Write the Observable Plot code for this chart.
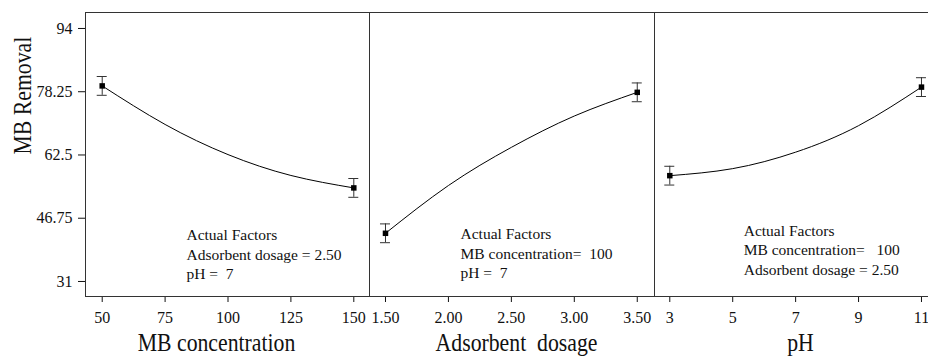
<!DOCTYPE html>
<html><head><meta charset="utf-8">
<script src="https://cdn.jsdelivr.net/npm/d3@7"></script>
<script src="https://cdn.jsdelivr.net/npm/@observablehq/plot@0.6"></script>
<style>
html,body{margin:0;padding:0;background:#fff;overflow:hidden;}
#chart{display:flex;flex-direction:row;width:928px;height:356px;overflow:hidden;}
#chart svg{flex:none;background:transparent !important;font-family:'Liberation Serif','Times New Roman',serif !important;font-size:16px !important;color:#111 !important;}
#chart svg text{font-family:'Liberation Serif','Times New Roman',serif !important;white-space:pre;}
</style></head><body><div id="chart"></div>
<script>
// ---- data ----
const yTicks = [31, 46.75, 62.5, 78.25, 94];
const yLabel = "MB Removal";

const conc = [50, 75, 100, 125, 150];
const concRemoval = [79.7, 70.1, 62.6, 57.4, 54.3];
const concTicks = [50, 75, 100, 125, 150];

const dose = [1.5, 2.0, 2.5, 3.0, 3.5];
const doseRemoval = [43.0, 54.9, 64.4, 72.2, 78.1];
const doseTicks = [1.5, 2.0, 2.5, 3.0, 3.5];

const ph = [3, 5, 7, 9, 11];
const phRemoval = [57.35, 59.1, 63.2, 69.8, 79.4];
const phTicks = [3, 5, 7, 9, 11];

const errHalf = 2.34; // ± half-width of error bars at design points

const xTitles = ["MB concentration", "Adsorbent  dosage", "pH"];
const notes = [
  "Actual Factors\nAdsorbent dosage = 2.50\npH =  7",
  "Actual Factors\nMB concentration=  100\npH =  7",
  "Actual Factors\nMB concentration=   100\nAdsorbent dosage = 2.50"
];

// ---- drawing ----
const yDomain = [27.26, 97.98];

function panel(o) {
  const rows = o.xs.map((x, i) => ({x, y: o.ys[i]}));
  const ends = [rows[0], rows[rows.length - 1]];
  return Plot.plot({
    width: o.width, height: 356,
    marginLeft: o.marginLeft, marginRight: 0, marginTop: 12, marginBottom: 60,
    x: {domain: o.xDomain, ticks: o.xTicks, tickFormat: o.xFormat, tickSize: 6, tickPadding: 9, label: null},
    y: {domain: yDomain, ticks: yTicks, tickSize: 7, tickPadding: 6, label: null,
        axis: o.showY ? "left" : null, tickFormat: d => String(d)},
    marks: [
      Plot.frame({stroke: "#333"}),
      Plot.line(rows, {x: "x", y: "y", curve: "natural", stroke: "#000", strokeWidth: 1}),
      Plot.ruleX(ends, {x: "x", y1: d => d.y - errHalf, y2: d => d.y + errHalf, stroke: "#333"}),
      Plot.ruleY(ends, {y: d => d.y + errHalf, x1: "x", x2: "x", insetLeft: -5, insetRight: -5, stroke: "#333"}),
      Plot.ruleY(ends, {y: d => d.y - errHalf, x1: "x", x2: "x", insetLeft: -5, insetRight: -5, stroke: "#333"}),
      Plot.dot(ends, {x: "x", y: "y", symbol: "square", r: 3.1, fill: "#000", stroke: null}),
      Plot.text([o.note], {x: () => o.noteX, y: () => o.noteY, text: d => d, textAnchor: "start",
        lineAnchor: "middle", lineHeight: 1.25, fontSize: 15.5, fill: "#111"}),
      Plot.text([o.title], {frameAnchor: "bottom", lineAnchor: "middle", dx: o.titleDx, dy: 46,
        text: d => d, fontSize: 25, fill: "#111"}),
      o.showY ? Plot.text([yLabel], {frameAnchor: "left", lineAnchor: "middle", dx: -62.5, rotate: -90,
        text: d => d, fontSize: 25, fill: "#111"}) : null
    ]
  });
}

// narrow the axis titles horizontally, as in the reference figure
function squeeze(svg, strings, s) {
  svg.querySelectorAll("text").forEach(t => {
    if (!strings.includes(t.textContent)) return;
    const tr = t.getAttribute("transform");
    if (tr) {
      t.setAttribute("transform", tr + ` scale(${s},1)`);
    } else {
      const x = +t.getAttribute("x") || 0, y = +t.getAttribute("y") || 0;
      t.removeAttribute("x"); t.removeAttribute("y");
      t.setAttribute("transform", `translate(${x},${y}) scale(${s},1)`);
    }
  });
  return svg;
}

const chart = document.getElementById("chart");
const titleSet = [...xTitles, yLabel];
chart.append(squeeze(panel({
  xs: conc, ys: concRemoval, xDomain: [43.36, 156.24], xTicks: concTicks, xFormat: d => String(d),
  width: 369, marginLeft: 85, showY: true, title: xTitles[0], titleDx: -11,
  note: notes[0], noteX: 83.5, noteY: 38.0
}), titleSet, 0.87));
chart.append(squeeze(panel({
  xs: dose, ys: doseRemoval, xDomain: [1.373, 3.637], xTicks: doseTicks, xFormat: d3.format(".2f"),
  width: 285, marginLeft: 0, showY: false, title: xTitles[1], titleDx: 4.5,
  note: notes[1], noteX: 2.096, noteY: 38.2
}), titleSet, 0.87));
chart.append(squeeze(panel({
  xs: ph, ys: phRemoval, xDomain: [2.514, 11.223], xTicks: phTicks, xFormat: d => String(d),
  width: 274, marginLeft: 0, showY: false, title: xTitles[2], titleDx: 9,
  note: notes[2], noteX: 5.35, noteY: 39.1
}), titleSet, 0.87));
</script>
</body></html>
